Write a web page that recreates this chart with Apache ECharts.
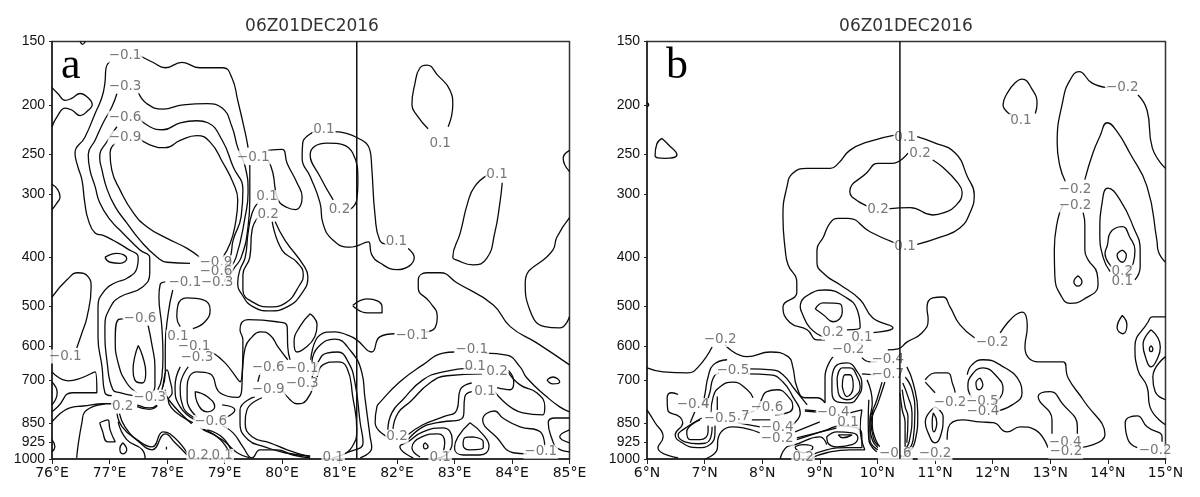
<!DOCTYPE html>
<html><head><meta charset="utf-8">
<style>html,body{margin:0;padding:0;background:#fff}#c{width:1200px;height:497px}</style>
<script src="https://cdn.jsdelivr.net/npm/echarts@6/dist/echarts.min.js"></script>
</head><body><div id="c"></div>
<script>
const titleText = "06Z01DEC2016";
const pressureTicks = [150,200,250,300,400,500,600,700,850,925,1000];
const lonRange = [76,85];
const latRange = [6,15];
const lonMarker = 81.3;
const latMarker = 10.39;

const contoursA = [
[[76.49,150],[76.53,152],[76.58,150]],
[[76,185],[76.10,190],[76.23,196],[76.35,194],[76.49,190],[76.61,193],[76.70,200],[76.63,205],[76.49,210],[76.35,205],[76.23,203],[76.10,210],[76,221]],
[[76,287],[76.1,294],[76.14,304],[76.09,312],[76,322]],
[[77.01,164],[76.94,169],[76.92,181],[76.87,193],[76.75,208],[76.57,232],[76.40,249],[76.45,265],[76.52,281],[76.57,312],[76.63,337],[76.75,358],[76.89,362],[77.06,370],[77.30,384],[77.50,401],[77.48,419],[77.32,439],[77.10,449],[76.92,464],[76.80,501],[76.80,574],[76.87,658],[76.92,740],[77.04,750]],
[[77.53,160],[77.76,165],[77.97,169],[78.26,165],[78.57,169],[78.97,169],[79.13,177],[79.23,196],[79.36,227],[79.41,243]],
[[79.44,263],[79.44,308],[79.41,348],[79.29,400],[79.15,423],[79.04,447]],
[[77.13,190],[77.04,202],[76.89,217],[76.75,235],[76.63,251],[76.66,269],[76.75,290],[76.83,312],[77.01,337],[77.23,358],[77.53,387],[77.70,401],[77.70,429],[77.57,458],[77.18,479],[77.01,503],[76.92,548],[76.96,646],[77.06,730],[77.18,740],[77.41,750]],
[[77.50,189],[77.65,199],[77.93,204],[78.28,200],[78.70,199],[78.96,203],[79.13,221],[79.23,243],[79.36,265],[79.41,298],[79.36,332],[79.20,400],[79.06,427],[79.0,447]],
[[77.13,221],[76.97,235],[76.83,254],[76.87,269],[76.96,294],[77.10,318],[77.30,342],[77.53,370],[77.83,400],[78.0,409],[78.40,411]],
[[77.50,212],[77.70,221],[77.93,224],[78.23,217],[78.52,215],[78.71,217],[78.96,235],[79.15,265],[79.32,294],[79.29,332],[79.15,370],[79.10,400],[79.01,414]],
[[77.10,238],[77.01,249],[77.04,269],[77.18,294],[77.41,326],[77.65,348],[78.0,367],[78.35,384],[78.57,400]],
[[77.50,232],[77.70,240],[77.97,243],[78.23,235],[78.52,230],[78.75,237],[78.97,260],[79.15,285],[79.23,308],[79.18,348],[79.10,375],[78.97,400]],
[[79.58,312],[79.48,327],[79.41,358],[79.36,400],[79.27,423],[79.23,449],[79.30,473],[79.50,501],[79.79,510],[80.09,501],[80.35,470],[80.45,437],[80.37,414],[80.05,370],[79.88,340]],
[[79.58,334],[79.48,353],[79.44,400],[79.32,433],[79.32,464],[79.53,493],[79.79,501],[80.05,493],[80.31,453],[80.37,433],[80.26,409],[80.0,387],[79.83,340]],
[[79.76,246],[80.0,245],[80.09,261],[80.26,285],[80.35,304],[80.23,322],[80.09,319],[79.93,308],[79.84,272],[79.76,257]],
[[76.92,400],[77.13,393],[77.30,402],[77.18,411],[77.01,409],[76.92,400]],
[[76,479],[76.26,443],[76.45,429],[76.63,437],[76.68,458],[76.61,524],[76.52,564],[76.43,604]],
[[76,673],[76.28,701],[76.75,673],[76.78,740],[76.35,740],[76.10,789],[76,807]],
[[76,705],[76.09,740],[76,782]],
[[76,845],[76.31,793],[76.54,786],[76.92,778],[77.06,778]],
[[76.92,778],[76.57,807],[76.52,848],[76.45,946],[76.43,995]],
[[76.83,848],[76.97,837],[77.01,876],[77.10,925],[76.97,925],[76.87,876],[76.83,848]],
[[76,916],[76.05,946],[76,968]],
[[77.23,929],[77.30,959],[77.23,977],[77.18,955],[77.23,929]],
[[77.13,811],[77.22,864],[77.48,916],[77.74,946],[77.93,884],[78.05,892],[78.35,972]],
[[77.17,811],[77.27,864],[77.53,929],[77.74,959],[77.97,892],[78.14,929],[78.35,982]],
[[77.15,845],[77.30,916],[77.57,959],[77.62,1000]],
[[77.99,946],[77.99,958]],
[[77.25,529],[77.15,531],[77.10,582],[77.15,646],[77.30,708],[77.48,740]],
[[77.67,544],[77.74,597],[77.79,658],[77.79,720],[77.74,740]],
[[77.50,597],[77.58,629],[77.63,676],[77.57,708],[77.44,698],[77.41,667],[77.44,628],[77.50,597]],
[[77.97,447],[77.88,453],[77.86,479],[77.91,548],[77.93,629],[77.91,691],[77.84,730]],
[[78.10,464],[78.02,517],[77.97,603],[77.97,676],[77.91,730]],
[[77.93,720],[78.0,667],[78.05,698],[78.09,740],[78.02,764],[78.45,848]],
[[77.97,730],[78.03,764],[78.43,852]],
[[77.48,782],[77.70,793],[77.83,782]],
[[77.48,788],[77.70,798],[77.83,786]],
[[78.45,553],[78.66,536],[78.75,508],[78.63,485],[78.35,481],[78.19,497],[78.17,524],[78.23,548]],
[[78.23,658],[78.14,720],[78.23,789],[78.49,837]],
[[78.37,658],[78.23,720],[78.28,789],[78.49,830]],
[[78.52,826],[78.35,764],[78.35,720],[78.52,673],[78.75,679],[78.92,740],[79.23,756],[79.36,603],[79.48,574],[79.62,561],[79.79,569],[79.93,601],[80.10,637]],
[[78.78,615],[79.01,646],[79.27,704],[79.32,582],[79.27,556],[79.41,531],[79.91,536],[80.09,548],[80.10,601],[80.14,637]],
[[78.49,736],[78.70,753],[78.83,789],[78.70,807],[78.52,771],[78.49,736]],
[[78.96,782],[79.18,800],[79.01,830]],
[[79.65,757],[79.39,800],[79.36,848],[79.48,904],[79.79,929],[80.09,959],[80.49,991]],
[[79.53,753],[79.27,800],[79.27,848],[79.41,916],[79.70,946],[80.05,972],[80.49,986]],
[[78.97,860],[79.15,888],[79.32,946],[79.48,995],[79.62,959],[79.91,959],[80.19,982],[80.49,995]],
[[78.63,876],[78.96,916],[79.22,972],[79.44,995]],
[[78.57,868],[78.87,904],[79.06,959]],
[[78.70,876],[78.97,908],[79.13,972]],
[[80.50,637],[80.66,569],[80.92,561],[81.13,569],[81.30,582],[81.56,615],[81.70,574],[81.96,566]],
[[80.52,643],[80.63,601],[80.92,580],[81.18,609],[81.39,676],[81.44,753],[81.53,900],[81.56,950],[81.36,995]],
[[80.52,692],[80.63,643],[80.78,618],[80.97,615],[81.15,643],[81.27,708],[81.36,848],[81.41,929],[81.13,972],[80.89,995]],
[[80.0,730],[80.14,764],[80.26,778],[80.43,764],[80.61,689],[80.71,652],[80.96,643],[81.13,661],[81.23,753],[81.30,876],[81.22,946],[81.05,982]],
[[80.49,517],[80.61,543],[80.57,574],[80.36,609],[80.26,615],[80.21,588],[80.31,548],[80.49,517]],
[[81.23,498],[81.48,483],[81.74,501],[81.74,515],[81.48,515],[81.23,498]],
[[79.62,676],[79.58,704]],
[[82.89,221],[82.97,200],[82.92,187],[82.71,175],[82.52,167],[82.40,169],[82.31,182],[82.26,200],[82.35,210],[82.54,223]],
[[83.58,275],[83.35,290],[83.23,312],[83.10,358],[82.97,400],[83.04,405],[83.32,414],[83.56,402],[83.70,358],[83.79,312],[83.83,285]],
[[85,246],[84.89,255],[85,271]],
[[85,334],[84.78,365],[84.71,387],[84.23,449],[84.31,508],[84.57,548],[84.83,551],[85,524]],
[[80.57,226],[80.36,238],[80.35,255],[80.49,277],[80.66,312],[80.71,342],[80.89,370],[81.18,382],[81.50,373],[81.56,395],[81.70,410],[82.0,423],[82.30,400],[82.19,384]],
[[80.92,226],[81.30,232],[81.53,246],[81.56,265],[81.62,332],[81.70,370],[81.83,377]],
[[80.89,308],[80.66,277],[80.49,251],[80.78,238],[81.23,249],[81.32,285],[81.30,308],[81.18,322]],
[[82.49,561],[82.66,551],[82.70,524],[82.57,490],[82.37,460],[82.37,443],[82.52,429],[82.75,429],[83.04,449],[83.67,496],[83.97,548],[84.43,590],[85,652]],
[[83.0,615],[82.80,618],[82.45,652],[82.05,704],[81.70,774],[81.65,789],[81.62,848],[81.83,904]],
[[83.53,618],[83.91,624],[84.14,658],[84.26,692],[84.60,753],[84.83,789],[85,807]],
[[83.32,661],[82.80,673],[82.45,698],[82.10,764],[81.91,811],[81.84,876]],
[[83.48,679],[82.87,685],[82.57,708],[82.23,771],[82.02,811],[81.93,872]],
[[83.93,667],[84.03,704],[83.97,730],[83.74,723]],
[[83.30,708],[83.10,730],[83.04,800],[82.80,826],[82.45,856],[82.19,896]],
[[83.30,736],[83.18,753],[83.15,826],[82.70,848],[82.45,864],[82.19,916]],
[[83.70,736],[84.19,811],[84.54,818],[84.57,789],[84.43,740],[84.14,714],[83.93,673]],
[[84.26,977],[84.02,972],[83.74,908],[83.49,837],[83.70,804],[83.84,830],[84.14,864],[84.49,884],[84.57,946]],
[[84.61,698],[84.71,689],[84.83,705],[84.71,711],[84.61,698]],
[[85,830],[84.75,830],[84.63,848],[84.70,916],[84.78,950],[85,968]],
[[85,876],[84.83,904],[85,929]],
[[83.27,848],[83.50,896],[83.60,946],[83.44,982],[83.15,982],[83.0,950],[83.06,904],[83.27,848]],
[[83.32,904],[83.50,925],[83.50,950],[83.27,959],[83.15,937],[83.18,908],[83.32,904]],
[[82.28,995],[82.05,946],[82.19,925],[82.45,884],[82.80,868],[82.96,916],[82.89,972],[82.71,995]],
[[82.40,991],[82.26,950],[82.43,904],[82.71,892],[82.83,929],[82.80,972]],
[[82.49,929],[82.54,946],[82.49,955],[82.46,940],[82.49,929]]
];

const labelsA = [
[77.27,160,"-0.1"],[77.27,184,"-0.3"],[77.27,212,"-0.6"],[77.27,232,"-0.9"],[79.50,254,"-0.1"],[79.74,304,"0.1"],[79.76,329,"0.2"],
[80.73,224,"0.1"],[81.0,322,"0.2"],[81.99,373,"0.1"],[82.75,238,"0.1"],[83.74,275,"0.1"],[82.26,570,"-0.1"],
[78.85,409,"-0.9"],[78.85,427,"-0.6"],[78.87,449,"-0.3"],[78.31,449,"-0.1"],[77.53,529,"-0.6"],[78.19,574,"0.1"],[78.47,601,"-0.1"],[78.52,631,"-0.3"],
[76.23,628,"-0.1"],[77.7,756,"-0.3"],[77.23,789,"0.2"],[78.76,845,"-0.6"],[79.76,661,"-0.6"],[79.76,730,"-0.9"],[80.35,664,"-0.1"],[80.35,711,"-0.3"],
[83.30,609,"-0.1"],[83.36,658,"0.1"],[83.74,673,"0.2"],[83.53,736,"0.1"],[82.0,904,"0.2"],[84.50,968,"-0.1"],[82.75,991,"0.1"],[78.54,986,"0.2"],[78.96,986,"0.1"],[80.89,991,"0.1"]
];

const contoursB = [
[[6.26,233],[6.36,239],[6.52,251],[6.31,255],[6.14,252],[6.17,239],[6.26,233]],
[[6,198],[6.03,200],[6,202]],
[[10.34,229],[9.82,237],[9.52,246],[9.32,261],[9.18,267],[8.78,267],[8.53,273],[8.43,290],[8.36,332],[8.40,387],[8.45,414],[8.60,447],[8.60,470],[8.36,501],[8.48,538],[8.78,556],[8.95,582],[9.09,582]],
[[8.92,506],[9.06,492],[9.35,494],[9.39,513],[9.23,536],[9.06,519],[8.92,506]],
[[9.47,556],[9.70,551],[9.65,508],[9.44,479],[9.09,464],[8.86,470],[8.66,501],[8.69,515],[8.83,551],[9.06,574]],
[[10.31,375],[9.87,356],[9.49,335],[9.32,335],[9.18,342],[9.06,365],[8.95,387],[8.95,409],[9.09,433],[9.35,453],[9.70,485],[9.92,527],[10.27,551],[9.92,563]],
[[9.82,317],[9.56,304],[9.52,297],[9.82,272],[10.01,261],[10.25,261],[10.53,249]],
[[10.18,321],[10.57,319],[10.96,330],[11.17,326],[11.35,317],[11.47,298],[11.38,284],[11.14,266],[10.96,257]],
[[10.69,231],[10.96,237],[11.35,249],[11.56,277],[11.68,301],[11.61,326],[11.43,350],[11.09,365],[10.69,377]],
[[12.34,210],[12.18,200],[12.25,190],[12.39,181],[12.51,178],[12.68,186],[12.77,199],[12.74,208]],
[[13.26,283],[13.17,265],[13.12,238],[13.22,196],[13.34,179],[13.50,172],[13.72,181],[13.99,185]],
[[14.52,191],[14.68,205],[14.77,243],[15,267]],
[[13.60,281],[13.74,249],[13.86,231],[13.99,217],[14.16,226],[14.38,249],[14.68,290],[14.85,370],[14.87,387],[15,409]],
[[13.22,315],[13.13,337],[13.07,387],[13.08,437],[13.20,479],[13.34,493],[13.57,485],[13.83,453],[13.81,429],[13.66,405],[13.60,387],[13.60,345],[13.57,326]],
[[13.48,435],[13.55,447],[13.48,456],[13.41,447],[13.48,435]],
[[14.04,427],[13.92,401],[13.86,358],[13.90,312],[14.0,292],[14.21,308],[14.44,348],[14.56,387],[14.56,418],[14.47,443]],
[[14.07,418],[13.95,393],[13.99,379],[14.04,358],[14.25,348],[14.38,365],[14.47,387],[14.44,411],[14.33,423]],
[[14.25,387],[14.16,396],[14.25,409],[14.32,396],[14.25,387]],
[[14.25,521],[14.33,543],[14.26,566],[14.16,551],[14.25,521]],
[[15,524],[14.77,524],[14.70,536],[14.47,601],[14.52,667],[14.68,720],[14.73,789],[15,856]],
[[14.75,556],[14.87,577],[14.91,601],[14.85,637],[14.75,658],[14.65,628],[14.61,595],[14.75,556]],
[[14.75,598],[14.78,606],[14.75,614],[14.72,606],[14.75,598]],
[[15,628],[14.78,689],[14.82,736],[15,764]],
[[14.51,950],[14.35,916],[14.30,848],[14.51,822],[14.68,864],[14.94,904],[14.94,925]],
[[12.13,564],[12.51,513],[12.60,548],[12.56,601],[12.79,643],[13.22,643],[13.31,692],[13.57,764],[13.95,896],[13.52,950]],
[[12.96,950],[12.74,876],[12.48,864],[12.25,884],[12.01,848],[11.78,845],[11.47,837],[11.23,868],[11.21,916]],
[[13.03,892],[13.03,837],[12.79,753],[13.0,736],[13.20,775],[13.47,864],[13.47,892]],
[[11.56,682],[11.64,652],[11.83,637],[12.13,652],[12.48,708],[12.51,740],[12.34,782],[12.01,807]],
[[11.64,757],[11.57,720],[11.64,682],[11.83,661],[12.08,689],[12.18,730],[12.13,757],[12.01,775]],
[[11.78,692],[11.83,714],[11.76,730],[11.71,708],[11.78,692]],
[[11.69,577],[11.43,543],[11.26,501],[11.14,479],[10.96,481],[10.86,503],[10.88,531],[10.77,564],[10.51,588],[10.36,606],[10.18,609]],
[[10.83,698],[11.0,676],[11.21,676],[11.31,714],[11.35,740]],
[[10.83,705],[11.0,740]],
[[11.0,789],[11.14,826],[11.09,904],[11.0,929],[10.88,888],[10.83,845],[11.0,789]],
[[10.97,811],[11.03,848],[10.98,884],[10.95,845],[10.97,811]],
[[10.51,658],[10.62,708],[10.70,811],[10.65,925],[10.44,991]],
[[10.48,689],[10.60,730],[10.65,811],[10.62,916],[10.51,968]],
[[10.44,708],[10.53,753],[10.60,811],[10.55,925],[10.46,959]],
[[10.43,730],[10.48,789],[10.53,826],[10.51,929]],
[[10.39,740],[10.43,800],[10.48,848],[10.48,946]],
[[9.82,698],[9.91,775],[9.87,837],[9.87,916],[10.01,959]],
[[10.08,705],[9.99,764],[9.87,848],[9.91,916],[10.01,950]],
[[10.13,705],[10.01,775],[9.89,848],[9.94,916],[10.01,941]],
[[9.85,764],[9.84,848],[9.85,916],[9.99,968]],
[[9.92,800],[9.91,856],[9.97,916],[10.04,946]],
[[6,661],[6.28,673],[6.71,676],[6.89,658],[7.13,601]],
[[7.35,595],[7.74,628],[8.14,615],[8.45,628],[8.53,658],[8.60,720],[8.74,757],[8.95,757],[9.09,775],[9.09,689],[9.23,628]],
[[9.21,692],[9.30,652],[9.47,646],[9.65,673],[9.73,714],[9.66,753],[9.52,775],[9.30,771],[9.21,736],[9.21,692]],
[[9.30,692],[9.39,661],[9.52,661],[9.66,692],[9.70,720],[9.58,757],[9.47,764],[9.32,740],[9.30,692]],
[[9.39,720],[9.44,682],[9.52,682],[9.58,720],[9.47,753],[9.39,720]],
[[9.52,811],[9.73,800],[9.70,868],[9.78,959],[9.52,959],[9.12,972],[8.86,995]],
[[8.60,908],[9.30,868]],
[[8.57,884],[9.0,845]],
[[8.74,800],[8.95,804]],
[[8.74,804],[8.95,808]],
[[9.12,904],[9.30,884],[9.56,888],[9.66,908],[9.56,937],[9.30,946],[9.14,929],[9.12,904]],
[[9.32,896],[9.56,896],[9.40,908],[9.32,896]],
[[8.60,916],[9.12,876],[9.35,860],[9.65,868],[9.73,908],[9.73,950],[9.47,950],[9.12,959],[8.78,991]],
[[8.31,1000],[8.43,946],[8.57,937],[9.0,904],[9.12,937]],
[[8.57,946],[8.71,937],[8.88,950],[8.71,972],[8.60,959],[8.57,946]],
[[7.39,637],[7.15,652],[7.06,689],[7.01,740],[6.97,785]],
[[7.79,664],[8.17,667],[8.36,682],[8.57,730],[8.78,782]],
[[7.25,676],[7.15,692],[7.09,740],[7.01,789]],
[[7.75,679],[8.14,682],[8.36,705],[8.53,753],[8.66,811],[8.52,856]],
[[7.84,757],[7.74,730],[7.49,705],[7.27,720],[7.15,753],[7.11,811]],
[[8.0,757],[8.08,736],[8.26,730],[8.45,753],[8.53,789],[8.48,807],[8.22,818]],
[[7.91,800],[8.0,757]],
[[6.54,746],[6.43,740],[6.35,757],[6.36,800],[6.57,826],[6.62,848],[6.49,896],[6.61,929],[6.87,950],[7.09,937],[7.18,884],[7.18,856]],
[[6.95,830],[6.62,876],[6.54,896],[6.66,925],[6.89,933],[7.09,916],[7.13,864]],
[[6.92,837],[6.69,884],[6.75,916],[6.92,916],[7.06,884],[7.06,856]],
[[6.83,807],[6.75,848]],
[[7.22,753],[7.22,800]],
[[6,800],[6.14,848],[6.28,904],[6.19,950],[6.54,995]],
[[7.01,1000],[7.22,955],[7.23,916],[7.48,864],[7.67,868],[7.96,888]],
[[7.56,848],[7.96,864]],
[[7.82,837],[8.14,837]],
[[7.67,818],[7.87,804]],
[[9.73,631],[9.87,643],[9.99,643]],
[[9.73,679],[9.96,682]]
];

const labelsB = [
[10.48,232,"0.1"],[10.74,249,"0.2"],[10.01,322,"0.2"],[10.48,380,"0.1"],[12.49,215,"0.1"],[14.25,185,"-0.2"],[13.43,294,"-0.2"],[13.43,316,"-0.2"],
[14.25,427,"0.2"],[14.25,447,"0.1"],[11.99,588,"-0.2"],[11.26,775,"-0.2"],[11.82,771,"-0.5"],[11.83,807,"-0.4"],[13.26,929,"-0.4"],[13.27,968,"-0.2"],
[14.82,964,"-0.2"],[11.0,977,"-0.2"],[10.31,977,"-0.6"],[10.18,637,"-0.4"],[10.18,682,"-0.7"],[9.49,609,"-0.2"],[9.23,564,"0.2"],[9.73,577,"0.1"],
[9.23,811,"-0.4"],[9.49,848,"0.1"],[8.71,991,"0.2"],[7.27,582,"-0.2"],[7.49,670,"-0.5"],[6.80,782,"-0.4"],[7.27,833,"-0.5"],[7.67,826,".7"],
[8.08,793,"-0.6"],[8.26,868,"-0.4"],[8.26,912,"-0.2"]
];

const yOf = p => Math.log10(p);
const ink = '#0a0a0a';
const toLine = (pts, gi) => ({
  type:'line', xAxisIndex:gi, yAxisIndex:gi, silent:true, animation:false,
  showSymbol:false, symbol:'none', smooth:0.5, smoothMonotone:'none', clip:true,
  lineStyle:{color:ink,width:1.3},
  data:pts.map(d=>[d[0],yOf(d[1])])
});
const toMarker = (x, gi) => ({
  type:'line', xAxisIndex:gi, yAxisIndex:gi, silent:true, animation:false,
  showSymbol:false, symbol:'none', z:5, lineStyle:{color:'#111',width:1.5},
  data:[[x,yOf(pressureTicks[0])],[x,yOf(1000)]]
});
const toLabels = (rows, gi) => ({
  type:'scatter', xAxisIndex:gi, yAxisIndex:gi, silent:true, animation:false,
  symbolSize:0, z:4,
  data:rows.map(r=>({value:[r[0],yOf(r[1])],text:r[2]})),
  label:{show:true,position:'inside',color:'#555',fontFamily:'"DejaVu Sans"',fontSize:13.5,
    backgroundColor:'#fff',padding:[0,1,0,1],
    formatter:p=>p.data.text.replace('-','\u2212')}
});
const mkX = (gi, range, suffix) => ({
  type:'value', gridIndex:gi, min:range[0], max:range[1], interval:1,
  splitLine:{show:false},
  axisLine:{onZero:false,lineStyle:{color:'#222',width:1.5}},
  axisTick:{length:5,lineStyle:{color:'#222',width:1}},
  axisLabel:{color:'#111',fontFamily:'"DejaVu Sans"',fontSize:14,margin:7,
    formatter:v=>v+suffix}
});
const mkY = gi => ({
  type:'value', gridIndex:gi, inverse:true, min:yOf(150), max:3,
  splitLine:{show:false},
  axisLine:{lineStyle:{color:'#222',width:1.5}},
  axisTick:{length:3,lineStyle:{color:'#222'},customValues:pressureTicks.map(yOf)},
  axisLabel:{color:'#111',fontFamily:'"Liberation Sans"',fontSize:14,margin:7,
    customValues:pressureTicks.map(yOf),
    formatter:v=>String(Math.round(Math.pow(10,v)))}
});
const titleBase = {text:titleText,top:13,textAlign:'center',
  textStyle:{color:'#333',fontFamily:'"DejaVu Sans"',fontSize:17,fontWeight:'normal'}};
const letterStyle = {color:'#000',fontFamily:'"Liberation Serif"',fontSize:44,fontWeight:'normal'};

const chart = echarts.init(document.getElementById('c'),null,{renderer:'canvas'});
chart.setOption({
  backgroundColor:'#fff', animation:false,
  title:[
    Object.assign({},titleBase,{left:307}),
    Object.assign({},titleBase,{left:901}),
    {text:'a',left:56,top:39,textStyle:letterStyle},
    {text:'b',left:661,top:39,textStyle:letterStyle}
  ],
  grid:[
    {left:52,top:41.5,width:517.5,height:417.5,show:true,borderColor:'#333',borderWidth:1.5,backgroundColor:'transparent'},
    {left:647,top:41.5,width:518.5,height:417.5,show:true,borderColor:'#333',borderWidth:1.5,backgroundColor:'transparent'}
  ],
  xAxis:[mkX(0,lonRange,'°E'),mkX(1,latRange,'°N')],
  yAxis:[mkY(0),mkY(1)],
  series:[
    ...contoursA.map(c=>toLine(c,0)),
    toMarker(lonMarker,0),
    toLabels(labelsA,0),
    ...contoursB.map(c=>toLine(c,1)),
    toMarker(latMarker,1),
    toLabels(labelsB,1)
  ]
});
</script></body></html>
